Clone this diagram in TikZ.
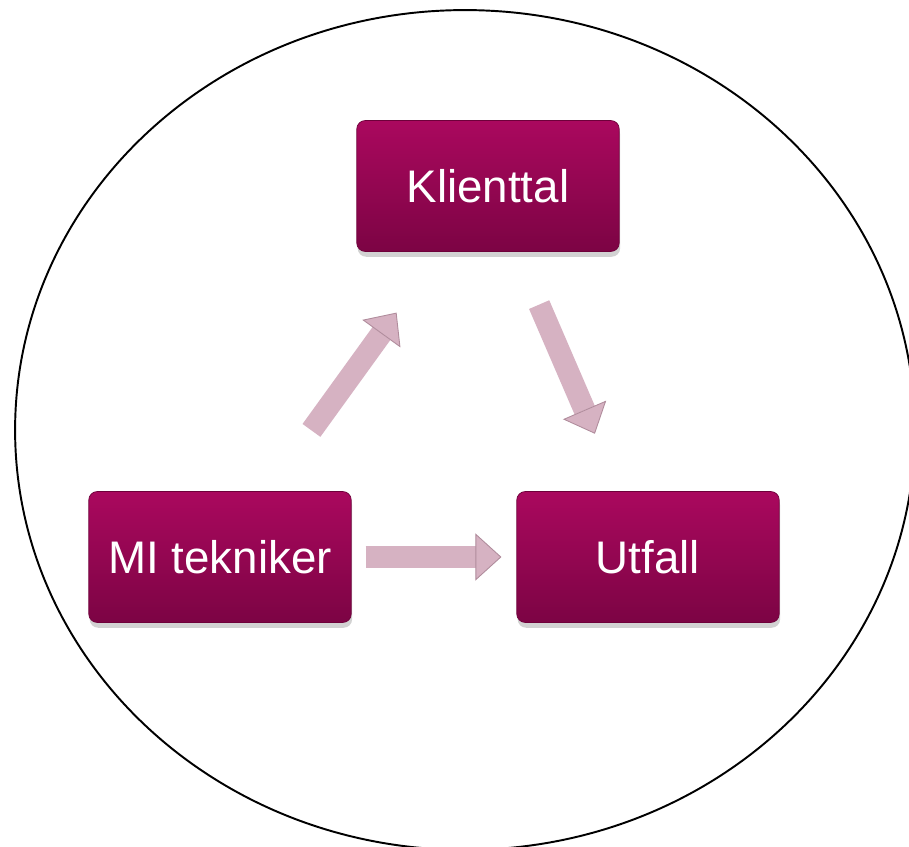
\documentclass[tikz,border=0pt]{standalone}
\usepackage{fontspec}
\setmainfont{Liberation Sans}
\usepackage{tikz}
\usetikzlibrary{arrows.meta,shadows}
\usepackage{xcolor}

\definecolor{boxtop}{RGB}{170,8,94}
\definecolor{boxbot}{RGB}{124,4,68}
\definecolor{boxedge}{RGB}{110,0,58}
\definecolor{arrowpink}{RGB}{214,178,194}
\definecolor{arrowedge}{RGB}{176,140,156}

\tikzset{
    stepbox/.style={rectangle, rounded corners=0.17cm, minimum width=5.25cm, minimum height=2.62cm,
        top color=boxtop, bottom color=boxbot, draw=boxedge, line width=0.4pt,
        text=white, font=\fontsize{26}{30}\selectfont,
        drop shadow={opacity=0.35, shadow xshift=0.5pt, shadow yshift=-3pt}},
    flow/.style={draw=arrowpink, line width=0.44cm,
        -{Triangle[width=0.94cm, length=0.52cm, line width=0.5pt, fill=arrowpink, color=arrowedge]}}
}

\begin{document}
\begin{tikzpicture}[x=0.02cm, y=-0.02cm]
                    \clip (0,0) rectangle (909,847);
                    \fill[white] (0,0) rectangle (909,847);
                    \draw[black, line width=1.1pt] (465,430) ellipse (9cm and 8.4cm);
                    \node[stepbox] (kl) at (488,186) {Klienttal};
                    \node[stepbox] (mi) at (220,557) {MI tekniker};
                    \node[stepbox] (ut) at (648,557) {Utfall};
                    \draw[flow, shorten <=1.5cm, shorten >=1.5cm] (mi) -- (kl);
                    \draw[flow, shorten <=1.15cm, shorten >=1.25cm] (kl) -- (ut);
                    \draw[flow, shorten <=0.28cm, shorten >=0.3cm] (mi) -- (ut);
                \end{tikzpicture}
\end{document}
